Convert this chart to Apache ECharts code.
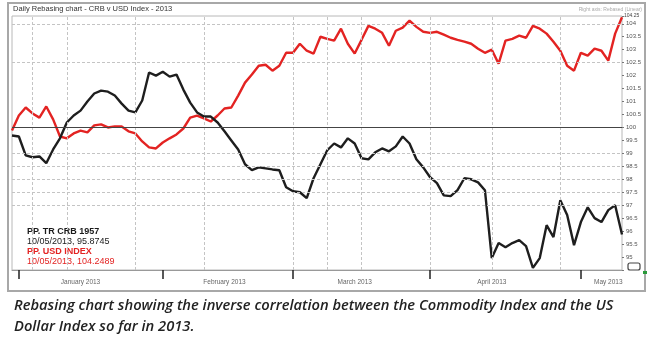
<!DOCTYPE html>
<html><head><meta charset="utf-8">
<script src="https://cdn.jsdelivr.net/npm/echarts@6/dist/echarts.min.js"></script>
<style>html,body{margin:0;padding:0;background:#fff;}#c{width:650px;height:347px;}</style>
</head><body><div id="c"></div>
<script>
// Trading days Jan 2 - May 10, 2013
const dates = [
'2013-01-02','2013-01-03','2013-01-04','2013-01-07','2013-01-08','2013-01-09','2013-01-10','2013-01-11','2013-01-14','2013-01-15',
'2013-01-16','2013-01-17','2013-01-18','2013-01-22','2013-01-23','2013-01-24','2013-01-25','2013-01-28','2013-01-29','2013-01-30',
'2013-01-31','2013-02-01','2013-02-04','2013-02-05','2013-02-06','2013-02-07','2013-02-08','2013-02-11','2013-02-12','2013-02-13',
'2013-02-14','2013-02-15','2013-02-19','2013-02-20','2013-02-21','2013-02-22','2013-02-25','2013-02-26','2013-02-27','2013-02-28',
'2013-03-01','2013-03-04','2013-03-05','2013-03-06','2013-03-07','2013-03-08','2013-03-11','2013-03-12','2013-03-13','2013-03-14',
'2013-03-15','2013-03-18','2013-03-19','2013-03-20','2013-03-21','2013-03-22','2013-03-25','2013-03-26','2013-03-27','2013-03-28',
'2013-04-01','2013-04-02','2013-04-03','2013-04-04','2013-04-05','2013-04-08','2013-04-09','2013-04-10','2013-04-11','2013-04-12',
'2013-04-15','2013-04-16','2013-04-17','2013-04-18','2013-04-19','2013-04-22','2013-04-23','2013-04-24','2013-04-25','2013-04-26',
'2013-04-29','2013-04-30','2013-05-01','2013-05-02','2013-05-03','2013-05-06','2013-05-07','2013-05-08','2013-05-09','2013-05-10'];

// PP. TR CRB 1957 (rebased)
const crb = [
99.69,99.65,98.92,98.85,98.88,98.62,99.15,99.58,100.19,100.46,
100.65,101.00,101.31,101.42,101.38,101.23,100.92,100.65,100.58,101.04,
102.12,102.00,102.15,101.96,102.04,101.46,100.96,100.58,100.42,100.42,
100.19,99.85,99.50,99.15,98.58,98.35,98.46,98.42,98.38,98.35,
97.69,97.54,97.50,97.27,98.04,98.58,99.12,99.38,99.23,99.58,
99.38,98.81,98.77,99.04,99.19,99.08,99.27,99.65,99.38,98.77,
98.46,98.08,97.85,97.38,97.35,97.58,98.04,98.00,97.88,97.58,
94.96,95.54,95.38,95.54,95.65,95.42,94.58,94.96,96.23,95.77,
97.19,96.62,95.46,96.35,96.92,96.50,96.35,96.81,97.00,95.87];

// PP. USD INDEX (rebased)
const usd = [
99.88,100.46,100.77,100.54,100.38,100.81,100.31,99.65,99.58,99.77,
99.88,99.81,100.08,100.12,100.00,100.04,100.04,99.85,99.77,99.46,
99.23,99.19,99.42,99.58,99.73,99.96,100.38,100.46,100.35,100.23,
100.46,100.73,100.77,101.23,101.73,102.04,102.38,102.42,102.19,102.38,
102.88,102.88,103.23,102.96,102.85,103.50,103.42,103.35,103.81,103.23,
102.85,103.38,103.92,103.81,103.65,103.15,103.73,103.85,104.12,103.88,
103.69,103.65,103.69,103.58,103.46,103.38,103.31,103.23,103.04,102.88,
103.00,102.46,103.35,103.42,103.54,103.46,103.92,103.81,103.62,103.31,
102.96,102.38,102.19,102.88,102.77,103.04,102.96,102.58,103.62,104.25];

const monthNames = ['January 2013','February 2013','March 2013','April 2013','May 2013'];
const monthLabelIdx = [10,31,50,70,87];
const monthTickIdx = [1,22,41,61,83];
const weekGridIdx = [3,8,18,28,41,46,51,61,70,80];
const hGridVals = [104,102.5,99,98.5,98,97.5,97];
const baseValue = 100;

const chart = echarts.init(document.getElementById('c'), null, {renderer:'canvas'});
const FONT = 'Liberation Sans, Arial, sans-serif';

const gridLines = hGridVals.map(v => ({yAxis: v}))
  .concat(weekGridIdx.map(i => ({xAxis: dates[i]})));

chart.setOption({
  animation: false,
  backgroundColor: '#fff',
  grid: {left: 12, right: 28, top: 16, bottom: 77, show: true, borderColor: '#b8b8b8', borderWidth: 1, backgroundColor: '#fff'},
  xAxis: {
    type: 'category', data: dates, boundaryGap: false,
    axisLine: {show: true, lineStyle: {color: '#999', width: 1}},
    axisTick: {show: true, length: 9, lineStyle: {color: '#222', width: 1.5},
      interval: (i) => monthTickIdx.indexOf(i) >= 0},
    axisLabel: {show: true, interval: (i) => monthLabelIdx.indexOf(i) >= 0,
      formatter: (v, i) => { const k = monthLabelIdx.indexOf(i); return k >= 0 ? monthNames[k] : ''; },
      color: '#666', fontSize: 6.5, fontFamily: FONT, margin: 9},
    splitLine: {show: false}
  },
  yAxis: {
    type: 'value', position: 'right', min: 94.5, max: 104.3, interval: 0.5, scale: true,
    axisLine: {show: false},
    axisTick: {show: true, length: 2, lineStyle: {color: '#777'}},
    axisLabel: {color: '#555', fontSize: 6, fontFamily: FONT, margin: 4,
      formatter: (v) => (v >= 95 && v <= 104.01 && Math.abs(v * 2 - Math.round(v * 2)) < 1e-6) ? String(Math.round(v * 2) / 2) : ''},
    splitLine: {show: false}
  },
  series: [
    {
      name: 'PP. USD INDEX', type: 'line', data: usd, symbol: 'none', smooth: false,
      lineStyle: {color: '#e32322', width: 2.4}, z: 3,
      markLine: {silent: true, symbol: 'none', label: {show: false},
        lineStyle: {color: '#c4c4c4', type: [3, 2], width: 1}, data: gridLines}
    },
    {
      name: 'PP. TR CRB 1957', type: 'line', data: crb, symbol: 'none', smooth: false,
      lineStyle: {color: '#1e1e1e', width: 2.4}, z: 4,
      markLine: {silent: true, symbol: 'none', label: {show: false},
        lineStyle: {color: '#444', type: 'solid', width: 1.2}, data: [{yAxis: baseValue}]}
    }
  ],
  graphic: [
    {type: 'rect', z: -10, shape: {x: 8, y: 3, width: 637, height: 288},
      style: {fill: 'none', stroke: '#a8a8a8', lineWidth: 2}},
    {type: 'text', left: 13, top: 5, style: {text: 'Daily Rebasing chart - CRB v USD Index - 2013', fill: '#333', font: '7.5px ' + FONT}},
    {type: 'text', right: 8, top: 7, style: {text: 'Right axis: Rebased (Linear)', fill: '#aaa', font: '5px ' + FONT}},
    {type: 'text', left: 624, top: 13, style: {text: '104.25', fill: '#444', font: '5px ' + FONT}},
    {type: 'text', left: 27, top: 227, style: {text: 'PP. TR CRB 1957', fill: '#1a1a1a', font: 'bold 9px ' + FONT}},
    {type: 'text', left: 27, top: 237, style: {text: '10/05/2013, 95.8745', fill: '#1a1a1a', font: '9px ' + FONT}},
    {type: 'text', left: 27, top: 247, style: {text: 'PP. USD INDEX', fill: '#e32322', font: 'bold 9px ' + FONT}},
    {type: 'text', left: 27, top: 257, style: {text: '10/05/2013, 104.2489', fill: '#e32322', font: '9px ' + FONT}},
    {type: 'rect', shape: {x: 628, y: 263, width: 12, height: 7, r: 2}, style: {fill: '#fff', stroke: '#444', lineWidth: 1.2}},
    {type: 'rect', shape: {x: 643, y: 271, width: 4, height: 3}, style: {fill: '#2a9a3a'}},
    {type: 'text', left: 14, top: 298, style: {text: 'Rebasing chart showing the inverse correlation between the Commodity Index and the US', fill: '#222', font: 'italic 600 14.7px "Open Sans", sans-serif'}},
    {type: 'text', left: 14, top: 319, style: {text: 'Dollar Index so far in 2013.', fill: '#222', font: 'italic 600 14.7px "Open Sans", sans-serif'}}
  ]
});
</script>
</body></html>
